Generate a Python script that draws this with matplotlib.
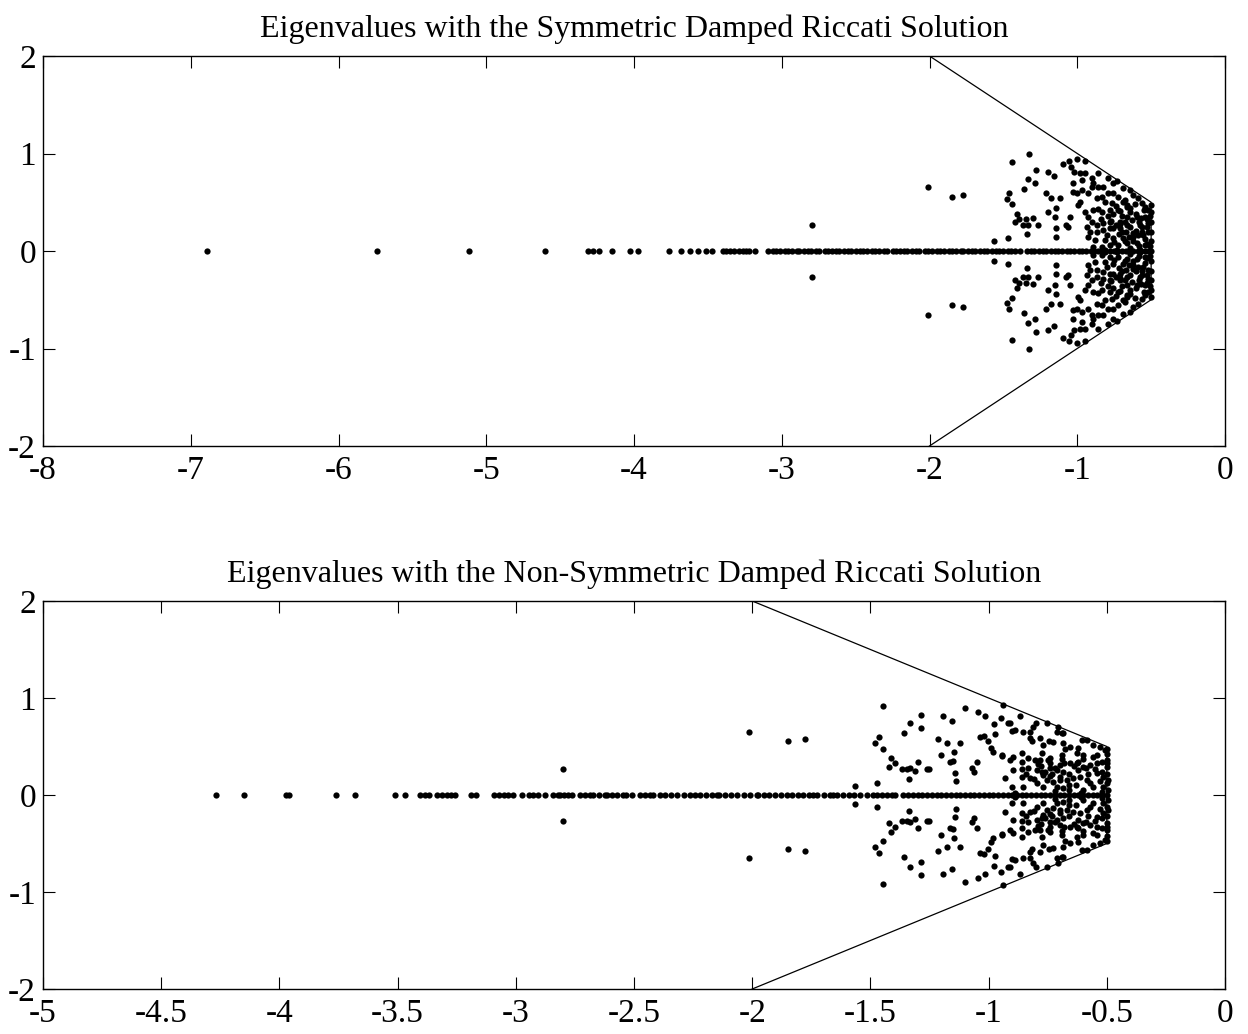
import matplotlib
matplotlib.use("Agg")
import matplotlib.pyplot as plt
import numpy as np

plt.rcParams['font.family'] = ['Liberation Serif', 'DejaVu Serif']

# ---------------- data: top panel (symmetric damped Riccati solution) ----------------
top_title = "Eigenvalues with the Symmetric Damped Riccati Solution"
top_xlim = (-8, 0)
top_xticks = [-8, -7, -6, -5, -4, -3, -2, -1, 0]
top_real = [-6.89, -5.74, -5.12, -4.60, -4.31, -4.28, -4.24, -4.15, -4.03, -3.97,
            -3.76, -3.68, -3.62, -3.57, -3.51, -3.47, -3.40, -3.38, -3.35, -3.32,
            -3.29, -3.26, -3.24, -3.22, -3.18,
            -3.09, -3.06, -3.04, -3.01, -2.98, -2.96, -2.93, -2.90, -2.88, -2.85,
            -2.82, -2.80, -2.77, -2.75, -2.71, -2.69, -2.66, -2.63, -2.61, -2.58,
            -2.55, -2.53, -2.50, -2.47, -2.45, -2.42, -2.39, -2.37, -2.34, -2.31,
            -2.29, -2.25, -2.23, -2.20, -2.17, -2.15, -2.12, -2.09, -2.07, -2.03,
            -2.01, -1.98, -1.95, -1.93, -1.90, -1.87, -1.85, -1.82, -1.79, -1.77,
            -1.74, -1.71, -1.69, -1.66, -1.63, -1.61, -1.58, -1.55, -1.53, -1.50,
            -1.47, -1.45, -1.42, -1.39, -1.34, -1.31, -1.29, -1.26, -1.23, -1.21,
            -1.18, -1.15, -1.13, -1.10, -1.07, -1.05, -1.02, -0.99, -0.97, -0.94,
            -0.91, -0.89, -0.86, -0.83, -0.81, -0.78, -0.75, -0.73, -0.70, -0.67,
            -0.65, -0.62, -0.59, -0.57, -0.54, -0.52, -0.50]
# complex eigenvalues: real parts and positive imaginary parts (conjugates mirrored)
top_cre = [-2.797, -2.01, -1.848, -1.775,
           -1.562, -1.471, -1.442, -1.325, -1.331, -1.359, -1.460, -1.478, -1.444,
           -1.410, -1.392, -1.422, -1.347, -1.365, -1.331, -1.338,
           -1.281, -1.197, -1.159, -1.288, -1.095, -1.055, -1.005, -0.948, -1.039,
           -1.021, -0.982, -0.948, -0.857, -0.903, -0.891, -0.971, -1.027, -1.213,
           -1.175, -1.118, -1.027, -1.005, -0.971, -0.925, -0.869, -0.835, -0.903,
           -0.857, -0.823, -0.789, -0.733, -0.756, -0.688, -0.642, -0.789, -0.756,
           -0.722, -0.676, -0.620, -0.586, -0.563, -0.665, -0.767, -0.812, -0.982,
           -0.993, -0.948, -0.891, -0.857, -0.835, -0.778, -0.722, -0.642, -0.540,
           -1.197, -1.145, -1.152, -1.050, -1.299, -1.265, -1.141, -1.073, -1.061,
           -0.925, -0.903, -0.937, -0.869, -0.823, -0.778, -0.710, -0.665, -0.597,
           -0.540, -0.914, -0.869, -0.823, -0.756, -0.710, -0.642, -0.574, -0.529,
           -1.141, -0.925, -0.880, -0.812, -0.756, -0.688, -0.620, -0.552, -0.518,
           -0.891, -0.835, -0.778, -0.722, -0.665, -0.597, -0.540, -0.733, -0.642,
           -0.574, -0.812,
           -0.50, -0.50, -0.50, -0.50, -0.50, -0.51, -0.51,
           -0.55, -0.58, -0.62, -0.66, -0.70, -0.72, -0.76, -0.80, -0.64, -0.56,
           -0.60, -0.68, -0.53, -0.74, -0.78, -0.84, -0.54, -0.58, -0.62, -0.70,
           -0.66, -0.61, -0.69, -0.74, -0.79,
           -0.52, -0.56, -0.60, -0.63, -0.67, -0.71, -0.75, -0.52, -0.57, -0.65,
           -0.71, -0.77, -0.53, -0.59, -0.68]
top_cim = [0.27, 0.66, 0.554, 0.574,
           0.099, 0.133, 0.912, 1.0, 0.741, 0.632, 0.591, 0.536, 0.478,
           0.382, 0.328, 0.297, 0.328, 0.270, 0.270, 0.170,
           0.831, 0.814, 0.769, 0.694, 0.892, 0.927, 0.940, 0.920, 0.865,
           0.814, 0.804, 0.797, 0.800, 0.745, 0.694, 0.728, 0.694, 0.592,
           0.540, 0.540, 0.609, 0.598, 0.626, 0.592, 0.540, 0.557, 0.660,
           0.653, 0.653, 0.745, 0.720, 0.694, 0.643, 0.626, 0.592, 0.592,
           0.557, 0.523, 0.574, 0.540, 0.489, 0.472, 0.489, 0.506, 0.506,
           0.472, 0.403, 0.421, 0.427, 0.403, 0.421, 0.421, 0.438, 0.455,
           0.403, 0.438, 0.352, 0.352, 0.335, 0.267, 0.233, 0.267, 0.243,
           0.352, 0.301, 0.250, 0.267, 0.284, 0.301, 0.301, 0.352, 0.352,
           0.352, 0.198, 0.198, 0.215, 0.233, 0.233, 0.250, 0.267, 0.250,
           0.140, 0.147, 0.113, 0.113, 0.130, 0.130, 0.147, 0.164, 0.198,
           0.044, 0.044, 0.062, 0.062, 0.079, 0.079, 0.062, 0.012, 0.027,
           0.012, 0.012,
           0.47, 0.40, 0.30, 0.20, 0.10, 0.36, 0.05,
           0.42, 0.30, 0.18, 0.27, 0.36, 0.17, 0.38, 0.16, 0.40, 0.20,
           0.38, 0.10, 0.33, 0.27, 0.24, 0.33, 0.12, 0.05, 0.10, 0.20,
           0.45, 0.48, 0.50, 0.46, 0.36,
           0.29, 0.25, 0.21, 0.32, 0.19, 0.28, 0.09, 0.42, 0.34, 0.14,
           0.41, 0.31, 0.07, 0.16, 0.30]

# ---------------- data: bottom panel (non-symmetric damped Riccati solution) ----------------
bot_title = "Eigenvalues with the Non-Symmetric Damped Riccati Solution"
bot_xlim = (-5, 0)
bot_xticks = [-5, -4.5, -4, -3.5, -3, -2.5, -2, -1.5, -1, -0.5, 0]
bot_real = [-4.27, -4.15, -3.97, -3.96, -3.76, -3.68, -3.51, -3.47, -3.405, -3.384,
            -3.366, -3.332, -3.313, -3.292, -3.275, -3.257, -3.19, -3.168, -3.091,
            -3.070, -3.050, -3.032, -3.013, -2.975, -2.943, -2.926, -2.905, -2.876,
            -2.841, -2.820,
            -2.813, -2.795, -2.778, -2.762, -2.728, -2.707, -2.686, -2.673, -2.648,
            -2.623, -2.614, -2.592, -2.570, -2.547, -2.534, -2.508, -2.475, -2.453,
            -2.432, -2.420, -2.391, -2.367, -2.342, -2.318, -2.288, -2.265, -2.242,
            -2.219, -2.196, -2.172, -2.149, -2.140, -2.115, -2.090, -2.064, -2.035,
            -2.008, -1.980, -1.975, -1.951, -1.927, -1.902, -1.878, -1.853, -1.832,
            -1.808, -1.784, -1.760, -1.743, -1.726, -1.698, -1.671, -1.658, -1.641,
            -1.617, -1.592, -1.568, -1.544, -1.516, -1.488, -1.474, -1.452, -1.43,
            -1.41, -1.396,
            -1.361, -1.34, -1.32, -1.30, -1.28, -1.26, -1.24, -1.22, -1.20, -1.18,
            -1.16, -1.14, -1.12, -1.10, -1.08, -1.06, -1.04, -1.02, -1.00, -0.98,
            -0.96, -0.94, -0.92, -0.90, -0.88, -0.86, -0.84, -0.82, -0.80, -0.78,
            -0.76, -0.74, -0.72, -0.70, -0.68, -0.66, -0.64, -0.62, -0.60, -0.58,
            -0.56, -0.54, -0.52, -0.50]
bot_cre = [-2.80, -2.014, -1.847, -1.778, -1.565, -1.474,
           -1.445, -1.481, -1.462, -1.448, -1.413, -1.396, -1.420, -1.368, -1.344,
           -1.333, -1.311, -1.300, -1.262, -1.251, -1.338, -1.359, -1.333, -1.286,
           -1.286, -1.213, -1.177, -1.121, -1.194, -1.156, -1.146, -1.163, -1.149,
           -1.141, -1.138, -1.203, -1.100, -1.044, -1.015, -0.977, -0.973, -0.949,
           -1.037, -1.020, -1.001, -0.990, -0.980, -1.072, -1.060, -1.051, -0.945,
           -0.910, -0.903, -0.888, -0.867, -0.856, -0.825, -0.811, -0.800, -0.754,
           -0.825, -0.818, -0.783, -0.769, -0.743, -0.729, -0.712, -0.684, -0.656,
           -0.621, -0.585, -0.557, -0.529, -0.508, -0.705, -0.684, -0.677, -0.628,
           -0.599, -0.543, -0.501, -0.896, -0.860, -0.832, -0.804, -0.783, -0.747,
           -0.931, -0.898, -0.860, -0.832, -0.797, -0.776, -0.903, -0.860, -0.825,
           -0.769, -0.740, -0.712, -0.684, -0.656, -0.628, -0.599, -0.571, -0.543,
           -0.522, -0.501, -0.754, -0.726, -0.698, -0.670, -0.642, -0.614, -0.585,
           -0.543, -0.515, -0.494, -0.888, -0.853, -0.797, -0.712, -0.684, -0.599,
           -0.557, -0.515, -0.494, -0.938,
           -0.916, -0.945, -0.909, -0.860, -0.775, -0.740, -0.691, -0.606, -0.691,
           -0.78, -0.74, -0.70, -0.66, -0.62, -0.58, -0.55, -0.52, -0.50, -0.50,
           -0.53, -0.57, -0.63, -0.66, -0.72, -0.77, -0.81, -0.84, -0.74, -0.69,
           -0.60, -0.56, -0.52, -0.61, -0.50, -0.50, -0.50,
           -0.72, -0.68, -0.64, -0.76, -0.70, -0.66, -0.79, -0.73, -0.62, -0.59]
bot_cim = [0.265, 0.653, 0.553, 0.574, 0.096, 0.128,
           0.918, 0.540, 0.595, 0.471, 0.385, 0.334, 0.293, 0.265, 0.265,
           0.276, 0.251, 0.344, 0.265, 0.269, 0.166, 0.636, 0.739, 0.829,
           0.695, 0.581, 0.540, 0.540, 0.818, 0.767, 0.447, 0.344, 0.351,
           0.224, 0.145, 0.413, 0.894, 0.860, 0.818, 0.729, 0.626, 0.798,
           0.602, 0.609, 0.557, 0.482, 0.447, 0.276, 0.241, 0.344, 0.403,
           0.739, 0.664, 0.671, 0.815, 0.653, 0.653, 0.705, 0.746, 0.746,
           0.585, 0.561, 0.585, 0.516, 0.557, 0.550, 0.653, 0.636, 0.499,
           0.482, 0.568, 0.516, 0.499, 0.464, 0.705, 0.540, 0.471, 0.430,
           0.413, 0.413, 0.361, 0.396, 0.344, 0.379, 0.361, 0.361, 0.361,
           0.172, 0.258, 0.265, 0.276, 0.258, 0.241, 0.087, 0.190, 0.172,
           0.207, 0.276, 0.258, 0.241, 0.327, 0.327, 0.293, 0.310, 0.327,
           0.344, 0.293, 0.155, 0.138, 0.155, 0.155, 0.172, 0.190, 0.155,
           0.224, 0.190, 0.155, 0.018, 0.087, 0.121, 0.087, 0.069, 0.052,
           0.087, 0.087, 0.052, 0.928,
           0.745, 0.412, 0.360, 0.429, 0.429, 0.378, 0.412, 0.567, 0.635,
           0.30, 0.20, 0.31, 0.22, 0.26, 0.22, 0.27, 0.24, 0.42, 0.12,
           0.14, 0.12, 0.10, 0.05, 0.04, 0.08, 0.16, 0.22, 0.33, 0.37,
           0.37, 0.39, 0.03, 0.02, 0.22, 0.33, 0.47,
           0.28, 0.33, 0.30, 0.24, 0.19, 0.10, 0.32, 0.22, 0.34, 0.28]

# sector boundary drawn in both panels
bound_x = [-2, -0.5, -0.5, -2]
bound_y = [2, 0.5, -0.5, -2]
ylim = (-2, 2)
yticks = [-2, -1, 0, 1, 2]

W, H = 1248, 1034
fig = plt.figure(figsize=(W / 100, H / 100), dpi=100)

panels = [
    (top_title, top_xlim, top_xticks, top_real, top_cre, top_cim, [43, 56, 1182, 390]),
    (bot_title, bot_xlim, bot_xticks, bot_real, bot_cre, bot_cim, [43, 601, 1182, 388]),
]

for title, xlim, xticks, real, cre, cim, (l, t, w, h) in panels:
    ax = fig.add_axes([l / W, 1 - (t + h) / H, w / W, h / H])
    re = np.asarray(real)
    cr = np.asarray(cre)
    ci = np.asarray(cim)
    xs = np.concatenate([re, cr, cr])
    ys = np.concatenate([np.zeros_like(re), ci, -ci])
    ax.plot(bound_x, bound_y, color='black', linewidth=0.9)
    ax.plot(xs, ys, linestyle='none', marker='o', markersize=4.5,
            color='black', markeredgewidth=0)
    ax.set_xlim(*xlim)
    ax.set_ylim(*ylim)
    ax.set_xticks(xticks)
    ax.set_yticks(yticks)
    ax.set_xticklabels([f"{v:g}" for v in xticks])
    ax.set_yticklabels([f"{v:g}" for v in yticks])
    ax.tick_params(direction='in', top=True, right=True, length=8.5, width=0.8,
                   labelsize=24)
    ax.tick_params(axis='x', pad=7)
    ax.tick_params(axis='y', pad=5)
    for s in ax.spines.values():
        s.set_linewidth(1.0)
    ax.set_title(title, fontsize=23, pad=14)

fig.savefig("out.png", dpi=100)
